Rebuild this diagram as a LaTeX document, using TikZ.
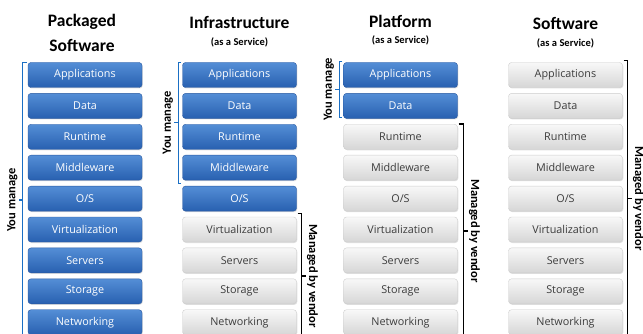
\documentclass[tikz,border=0pt]{standalone}
\usepackage{fontspec}
\setmainfont{Carlito}
\newfontfamily\boxfont{Open Sans}
\usetikzlibrary{shadows,calc}

\definecolor{blueT}{RGB}{84,142,214}
\definecolor{blueB}{RGB}{40,96,176}
\definecolor{blueD}{RGB}{40,88,160}
\definecolor{grayT}{RGB}{248,248,248}
\definecolor{grayB}{RGB}{214,214,214}
\definecolor{grayD}{RGB}{204,204,204}
\definecolor{grayText}{RGB}{60,60,60}
\definecolor{braceBlue}{RGB}{26,111,196}

\tikzset{
  layer/.style={rounded corners=3pt, minimum width=114pt, minimum height=25pt,
    inner sep=0pt, font=\boxfont\fontsize{10.8}{11}\selectfont,
    drop shadow={shadow xshift=0.8pt, shadow yshift=-1pt, opacity=0.25}},
  mine/.style={layer, top color=blueT, bottom color=blueB, draw=blueD,
    line width=0.4pt, text=white},
  vendor/.style={layer, top color=grayT, bottom color=grayB, draw=grayD,
    line width=0.4pt, text=grayText},
  title/.style={font=\bfseries\fontsize{17.5}{18}\selectfont},
  subtitle/.style={font=\bfseries\fontsize{10.5}{11}\selectfont},
  side/.style={font=\bfseries\fontsize{12.5}{13}\selectfont, inner sep=1pt},
  ourbrace/.style={draw=braceBlue, line width=1.3pt},
  theirbrace/.style={draw=black, line width=1.3pt},
}

\begin{document}
\begin{tikzpicture}[x=1pt,y=-1pt]
\useasboundingbox (0,0) rectangle (643,334);

% column headings
\node[title]    (t1a) at (82,22)    {Packaged};
\node[title]    (t1b) at (82,45)    {Software};
\node[title]    (t2a) at (239.5,22) {Infrastructure};
\node[subtitle] (t2b) at (239.5,42) {(as a Service)};
\node[title]    (t3a) at (400.5,21) {Platform};
\node[subtitle] (t3b) at (400.5,40) {(as a Service)};
\node[title]    (t4a) at (565.5,23) {Software};
\node[subtitle] (t4b) at (565.5,43) {(as a Service)};

% the stacks: first \k layers are managed by you
\foreach \col/\cx/\k in {1/85/9, 2/239.5/5, 3/400.5/2, 4/565.5/0} {
  \foreach \name [count=\i from 0] in
      {Applications,Data,Runtime,Middleware,O/S,Virtualization,Servers,Storage,Networking} {
    \ifnum\i<\k \def\sty{mine}\else\def\sty{vendor}\fi
    \node[\sty] (c\col r\i) at (\cx,75+30.9*\i) {\name};
  }
}

% "You manage" brackets
\draw[ourbrace] ($(c1r0.north west)+(-1,0)$) -| ($(c1r8.south west)+(-5,3)$);
\coordinate (y1) at ($(c1r0.north west)!0.5!(c1r8.south west)+(-5,1.5)$);
\draw[ourbrace] (y1) -- ++(-4,0) coordinate (y1e);
\node[side, rotate=90, anchor=south] (ly1) at (y1e) {You manage};

\draw[ourbrace] ($(c2r0.north west)+(-1,0)$) -| ($(c2r3.south west)+(-4,3)$) -- ++(3,0);
\coordinate (y2) at ($(c2r0.north west)!0.5!(c2r3.south west)+(-4,1.5)$);
\draw[ourbrace] (y2) -- ++(-4,0) coordinate (y2e);
\node[side, rotate=90, anchor=south] (ly2) at (y2e) {You manage};

\draw[ourbrace] ($(c3r0.north west)+(-1,-1)$) -| ($(c3r1.south west)+(-4,-1)$) -- ++(3,0);
\coordinate (y3) at ($(c3r0.north west)!0.5!(c3r1.south west)+(-4,-1)$);
\draw[ourbrace] (y3) -- ++(-4,0) coordinate (y3e);
\node[side, rotate=90, anchor=south] (ly3) at (y3e) {You manage};

% "Managed by vendor" brackets
\draw[theirbrace] ($(c2r5.north east)+(1,-3.5)$) -| ($(c2r8.south east)+(5,3)$) -- ++(-4,0);
\coordinate (v2) at ($(c2r5.north east)!0.5!(c2r8.south east)+(5,0)$);
\draw[theirbrace] (v2) -- ++(4,0) coordinate (v2e);
\node[side, rotate=-90, anchor=south] (lv2) at (v2e) {Managed by vendor};

\draw[theirbrace] ($(c3r2.north east)+(1,0)$) -| ($(c3r8.south east)+(6,3)$) -- ++(-5,0);
\coordinate (v3) at ($(c3r2.north east)!0.5!(c3r8.south east)+(6,1.5)$);
\draw[theirbrace] (v3) -- ++(4,0) coordinate (v3e);
\node[side, rotate=-90, anchor=south] (lv3) at (v3e) {Managed by vendor};

\draw[theirbrace] ($(c4r0.north east)+(1,-1.5)$) -| ($(c4r8.south east)+(5,3)$) -- ++(-4,0);
\coordinate (v4) at ($(c4r0.north east)!0.5!(c4r8.south east)+(5,0)$);
\draw[theirbrace] (v4) -- ++(4,0) coordinate (v4e);
\node[side, rotate=-90, anchor=south] (lv4) at (v4e) {Managed by vendor};
\end{tikzpicture}
\end{document}
